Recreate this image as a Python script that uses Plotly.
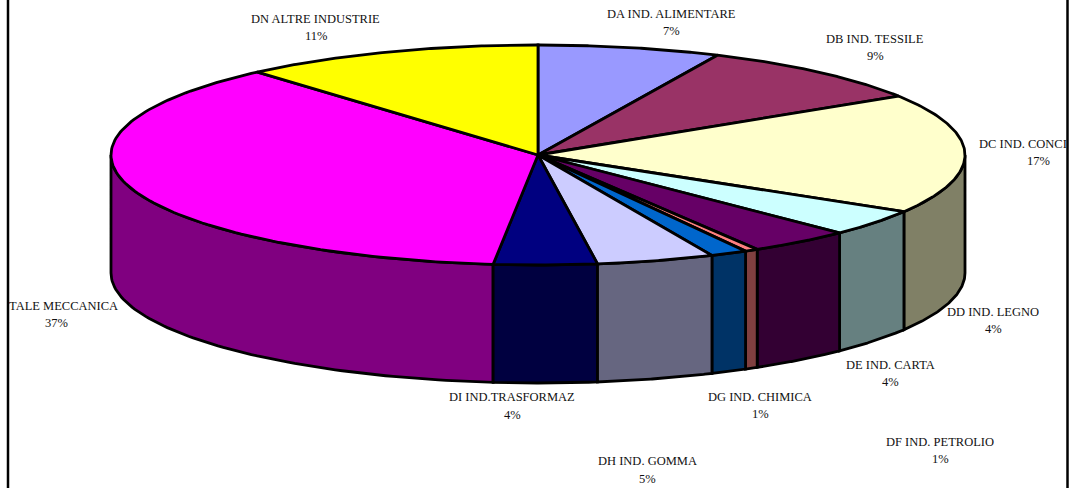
import numpy as np
import plotly.graph_objects as go

categories = ["DA IND. ALIMENTARE", "DB IND. TESSILE", "DC IND. CONCI", "DD IND. LEGNO",
              "DE IND. CARTA", "DF IND. PETROLIO", "DG IND. CHIMICA", "DH IND. GOMMA",
              "DI IND.TRASFORMAZ", "TALE MECCANICA", "DN ALTRE INDUSTRIE"]
values = [6.9, 9.1, 17.6, 3.9, 3.9, 0.5, 1.4, 4.45, 3.9, 36.9, 11.4]
pct_labels = ["7%", "9%", "17%", "4%", "4%", "1%", "1%", "5%", "4%", "37%", "11%"]

top_colors = ["#9999FF", "#993366", "#FFFFCC", "#CCFFFF", "#660066", "#FF8080",
              "#0066CC", "#CCCCFF", "#000080", "#FF00FF", "#FFFF00"]
side_colors = ["#4D4D80", "#4D1A33", "#808066", "#668080", "#330033", "#804040",
               "#003366", "#666680", "#000040", "#800080", "#808000"]

# name x, name y, pct x, pct y, name anchor
label_layout = [
    (671, 14, 671, 31, "center"), (875, 39, 875, 56, "center"), (977, 144, 1038, 161, "left"),
    (993, 312, 993, 329, "center"), (890, 365, 890, 382, "center"), (940, 442, 940, 459, "center"),
    (760, 397, 760, 414, "center"), (647, 461, 647, 479, "center"), (512, 397, 512, 415, "center"),
    (63, 306, 56, 323, "center"), (315, 19, 316, 36, "center"),
]

CX, CY, RX, RY, DEPTH = 538, 155, 427, 110, 118


def ellipse(theta_deg, dy=0):
    t = np.radians(theta_deg)
    return CX + RX * np.sin(t), CY - RY * np.cos(t) + dy


edges = np.concatenate([[0], np.cumsum(values)]) / np.sum(values) * 360
fig = go.Figure()


def poly(xs, ys, color):
    fig.add_trace(go.Scatter(x=list(xs), y=list(ys), mode="lines", fill="toself", fillcolor=color,
                             line=dict(color="black", width=2.8), hoverinfo="skip", showlegend=False))


# Visible outer wall: front half only, drawn from the outside in
side_order = [9, 8, 2, 3, 4, 5, 6, 7]
for i in side_order:
    a, b = max(edges[i], 90), min(edges[i + 1], 270)
    if b <= a:
        continue
    th = np.linspace(a, b, 80)
    x1, y1 = ellipse(th)
    x2, y2 = ellipse(th[::-1], DEPTH)
    poly(np.r_[x1, x2, x1[0]], np.r_[y1, y2, y1[0]], side_colors[i])

# Top surface
for i in range(len(values)):
    th = np.linspace(edges[i], edges[i + 1], 120)
    x, y = ellipse(th)
    poly(np.r_[CX, x, CX], np.r_[CY, y, CY], top_colors[i])

font = dict(family="Liberation Serif", size=12.5, color="#111111")
ann = []
for name, pct, (nx, ny, px, py, anchor) in zip(categories, pct_labels, label_layout):
    ann.append(dict(x=nx, y=ny, text=name, xanchor=anchor, yanchor="middle", showarrow=False, font=font))
    ann.append(dict(x=px, y=py, text=pct, xanchor="center", yanchor="middle", showarrow=False, font=font))

frame = [dict(type="line", xref="x", yref="y", x0=v, x1=v, y0=0, y1=488, line=dict(color="black", width=2.5))
         for v in (8, 1067.5)]

fig.update_layout(
    width=1072, height=488, margin=dict(l=0, r=0, t=0, b=0),
    paper_bgcolor="white", plot_bgcolor="white", showlegend=False,
    xaxis=dict(range=[0, 1072], visible=False, fixedrange=True),
    yaxis=dict(range=[488, 0], visible=False, fixedrange=True),
    annotations=ann, shapes=frame,
)
fig.write_html("out.html", config={"displayModeBar": False},
               post_script="document.body.style.margin='0';document.body.style.overflow='hidden';")
